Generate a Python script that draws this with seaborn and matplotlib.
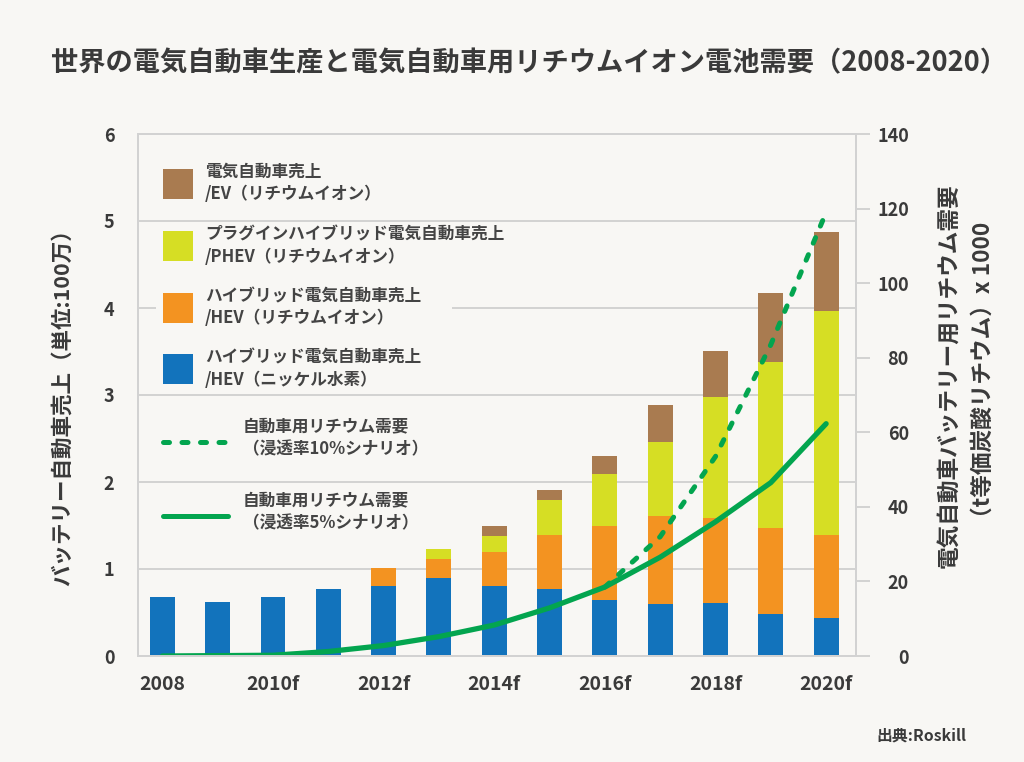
import numpy as np
import pandas as pd
import matplotlib
matplotlib.use("Agg")
import matplotlib.pyplot as plt
from matplotlib.patches import Rectangle
from matplotlib.lines import Line2D
import seaborn as sns

# ---------------------------------------------------------------------------
# data
# ---------------------------------------------------------------------------
years = ["2008", "2009", "2010", "2011", "2012", "2013", "2014",
         "2015", "2016", "2017", "2018", "2019", "2020"]
xtick_labels = ["2008", "2010f", "2012f", "2014f", "2016f", "2018f", "2020f"]

# vehicle sales, millions
hev_nimh = [0.68, 0.62, 0.68, 0.77, 0.80, 0.90, 0.80, 0.77, 0.64, 0.60, 0.61, 0.48, 0.44]
hev_li = [0.00, 0.00, 0.00, 0.00, 0.21, 0.21, 0.40, 0.62, 0.85, 1.01, 0.98, 0.99, 0.95]
phev_li = [0.00, 0.00, 0.00, 0.00, 0.00, 0.12, 0.18, 0.40, 0.60, 0.85, 1.39, 1.91, 2.58]
ev_li = [0.00, 0.00, 0.00, 0.00, 0.00, 0.00, 0.11, 0.12, 0.21, 0.43, 0.53, 0.79, 0.90]

# lithium demand, t LCE x 1000
demand_5pct = [0.0, 0.1, 0.2, 1.2, 2.8, 5.2, 8.3, 12.9, 18.5, 26.5, 36.0, 46.5, 62.3]
demand_10pct_years = ["2016", "2017", "2018", "2019", "2020"]
demand_10pct = [18.5, 32.0, 53.5, 83.5, 119.0]

series_labels = [
    ("電気自動車売上", "/EV（リチウムイオン）"),
    ("プラグインハイブリッド電気自動車売上", "/PHEV（リチウムイオン）"),
    ("ハイブリッド電気自動車売上", "/HEV（リチウムイオン）"),
    ("ハイブリッド電気自動車売上", "/HEV（ニッケル水素）"),
]
line_labels = [
    ("自動車用リチウム需要", "（浸透率10%シナリオ）"),
    ("自動車用リチウム需要", "（浸透率5%シナリオ）"),
]

# ---------------------------------------------------------------------------
# style
# ---------------------------------------------------------------------------
BG = "#f8f7f4"
TXT = "#3a3a3a"
LEG_TXT = "#444444"
GRID = "#d2d2d2"
C_EV = "#a97b50"
C_PHEV = "#d6de24"
C_HEVLI = "#f39321"
C_HEVNI = "#1273bc"
C_GREEN = "#03a54f"

sns.set_theme(style="white")
plt.rcParams["font.family"] = ["Noto Sans CJK JP", "DejaVu Sans"]
plt.rcParams["axes.unicode_minus"] = False

W, H = 1024, 762


def fx(px):
    return px / W


def fy(py):
    return 1 - py / H


fig = plt.figure(figsize=(W / 100, H / 100), dpi=100, facecolor=BG)
ax = fig.add_axes([fx(138), fy(656), fx(856) - fx(138), fy(134) - fy(656)])
ax.set_facecolor(BG)

# stacked bars: draw cumulative totals from the top layer down
df = pd.DataFrame({"year": years, "hev_nimh": hev_nimh, "hev_li": hev_li,
                   "phev": phev_li, "ev": ev_li})
df["c1"] = df["hev_nimh"]
df["c2"] = df["c1"] + df["hev_li"]
df["c3"] = df["c2"] + df["phev"]
df["c4"] = df["c3"] + df["ev"]

for col, color in [("c4", C_EV), ("c3", C_PHEV), ("c2", C_HEVLI), ("c1", C_HEVNI)]:
    sns.barplot(data=df, x="year", y=col, order=years, color=color,
                saturation=1, width=0.45, linewidth=0, errorbar=None, ax=ax)

ax.set_ylim(0, 6)
ax.set_xlim(-0.44, 12.54)
ax.set_yticks(range(0, 7))
ax.set_xticks(range(0, 13, 2))
ax.set_xticklabels(xtick_labels)
ax.set_xlabel("")
ax.set_ylabel("")
ax.set_axisbelow(True)
ax.yaxis.grid(True, color=GRID, lw=1.4)
ax.tick_params(axis="y", length=0, pad=17, labelsize=13, labelcolor=TXT)
ax.tick_params(axis="x", length=0, pad=14, labelsize=14, labelcolor=TXT)
for lab in ax.get_xticklabels() + ax.get_yticklabels():
    lab.set_fontweight("bold")
for sp in ax.spines.values():
    sp.set_color(GRID)
    sp.set_linewidth(1.4)

# lithium demand lines on the right axis
ax2 = ax.twinx()
pos = {y: i for i, y in enumerate(years)}
sns.lineplot(x=[pos[y] for y in years], y=demand_5pct, ax=ax2, color=C_GREEN,
             lw=3.8, solid_capstyle="round")
sns.lineplot(x=[pos[y] for y in demand_10pct_years], y=demand_10pct, ax=ax2,
             color=C_GREEN, lw=3.6, linestyle=(0, (1.2, 2.5)),
             dash_capstyle="round")
ax2.set_ylim(0, 140)
ax2.set_yticks(range(0, 141, 20))
ax2.tick_params(axis="y", length=10, width=1.4, color=GRID, pad=28,
                labelsize=13, labelcolor=TXT)
for lab in ax2.get_yticklabels():
    lab.set_fontweight("bold")
    lab.set_ha("right")
for sp in ax2.spines.values():
    sp.set_color(GRID)
    sp.set_linewidth(1.4)
ax2.set_xlim(ax.get_xlim())

# axis titles
fig.text(fx(62), fy(402), "バッテリー自動車売上（単位:100万）", rotation=90,
         ha="center", va="center", fontsize=15.5, fontweight="bold", color=TXT)
fig.text(fx(950), fy(376), "電気自動車バッテリー用リチウム需要", rotation=90,
         ha="center", va="center", fontsize=16.3, fontweight="bold", color=TXT)
fig.text(fx(983), fy(375), "（t等価炭酸リチウム）x 1000", rotation=90,
         ha="center", va="center", fontsize=16.3, fontweight="bold", color=TXT)

# title and source
fig.text(fx(51), fy(63), "世界の電気自動車生産と電気自動車用リチウムイオン電池需要（2008-2020）",
         ha="left", va="center", fontsize=19.6, fontweight="bold", color=TXT)
fig.text(fx(966), fy(735), "出典:Roskill", ha="right", va="center",
         fontsize=11.4, fontweight="bold", color=TXT)

# legend (drawn by hand to follow the original layout)
fig.add_artist(Rectangle((fx(156), fy(326)), fx(452) - fx(156), fy(290) - fy(326),
                         transform=fig.transFigure, facecolor=BG, edgecolor="none",
                         zorder=1))
patch_y = [184, 246, 308, 369]
for (l1, l2), color, yc in zip(series_labels, [C_EV, C_PHEV, C_HEVLI, C_HEVNI], patch_y):
    fig.add_artist(Rectangle((fx(163), fy(yc + 15)), fx(30), 30 / H,
                             transform=fig.transFigure, facecolor=color,
                             edgecolor="none", zorder=2))
    fig.text(fx(205), fy(yc - 12), l1, ha="left", va="center", fontsize=12,
             fontweight="bold", color=LEG_TXT)
    fig.text(fx(205), fy(yc + 10.5), l2, ha="left", va="center", fontsize=12,
             fontweight="bold", color=LEG_TXT)

line_y = [442, 516]
line_styles = [(0, (1.2, 2.5)), "-"]
for (l1, l2), ls, yc in zip(line_labels, line_styles, line_y):
    fig.add_artist(Line2D([fx(163), fx(228)], [fy(yc), fy(yc)],
                          transform=fig.transFigure, color=C_GREEN, lw=3.6,
                          linestyle=ls, dash_capstyle="round", zorder=2))
    fig.text(fx(243), fy(yc - 16), l1, ha="left", va="center", fontsize=12,
             fontweight="bold", color=LEG_TXT)
    fig.text(fx(243), fy(yc + 7), l2, ha="left", va="center", fontsize=12,
             fontweight="bold", color=LEG_TXT)

fig.savefig("out.png", dpi=100, facecolor=BG)
